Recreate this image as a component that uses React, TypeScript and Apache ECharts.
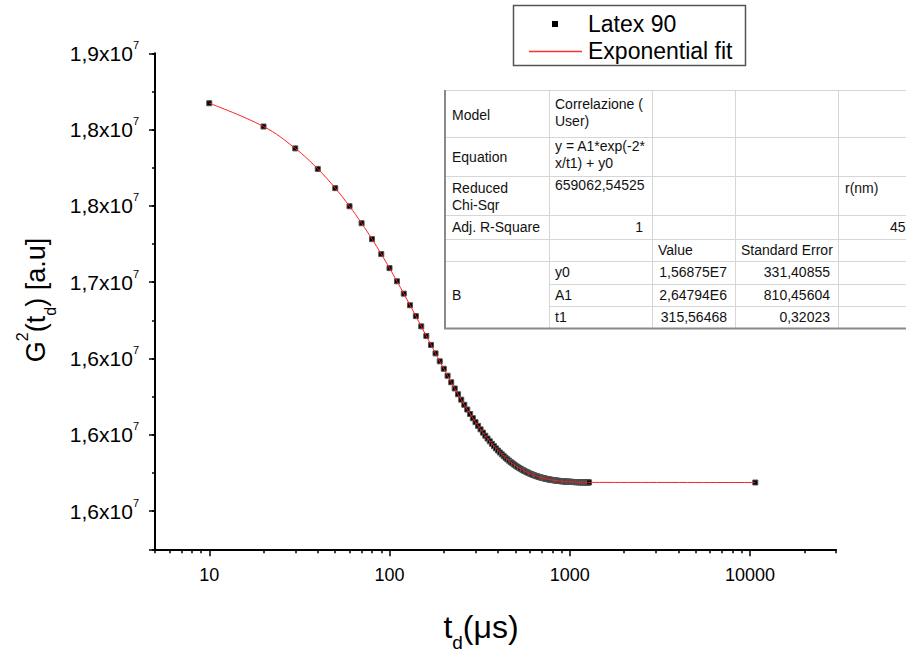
import React, { useEffect, useRef } from 'react';
import * as echarts from 'echarts';

const FONT = '"Liberation Sans", Arial, Helvetica, sans-serif';

// Delay time t_d (µs)
const tValues = [
  10, 20, 30, 40, 50, 60, 70, 80, 90, 100,
  110, 120, 130, 140, 150, 160, 170, 180, 190, 200,
  210, 220, 230, 240, 250, 260, 270, 280, 290, 300,
  310, 320, 330, 340, 350, 360, 370, 380, 390, 400,
  410, 420, 430, 440, 450, 460, 470, 480, 490, 500,
  510, 520, 530, 540, 550, 560, 570, 580, 590, 600,
  610, 620, 630, 640, 650, 660, 670, 680, 690, 700,
  710, 720, 730, 740, 750, 760, 770, 780, 790, 800,
  810, 820, 830, 840, 850, 860, 870, 880, 890, 900,
  910, 920, 930, 940, 950, 960, 970, 980, 990, 1000,
  1010, 1020, 1030, 1040, 1050, 1060, 1070, 1080, 1090, 1100,
  1110, 1120, 1130, 1140, 1150, 1160, 1170, 1180, 1190, 1200,
  1210, 1220, 1230, 1240, 1250, 1260, 1270, 1280,
  10700,
];

// G2(t_d) [a.u] — Latex 90
const gValues = [
  18172800, 18020200, 17876900, 17742500, 17616300, 17497800, 17386700, 17282300, 17184400, 17092400,
  17006200, 16925200, 16849200, 16777800, 16710900, 16648000, 16589000, 16533700, 16481700, 16432900,
  16387200, 16344200, 16303900, 16266000, 16230500, 16197100, 16165800, 16136500, 16108900, 16083000,
  16058700, 16035900, 16014500, 15994400, 15975600, 15957900, 15941300, 15925700, 15911100, 15897300,
  15884400, 15872400, 15861000, 15850400, 15840400, 15831000, 15822200, 15813900, 15806100, 15798800,
  15792000, 15785600, 15779600, 15773900, 15768600, 15763600, 15759000, 15754600, 15750400, 15746600,
  15742900, 15739500, 15736300, 15733300, 15730500, 15727900, 15725400, 15723100, 15720900, 15718800,
  15716900, 15715100, 15713400, 15711800, 15710300, 15708900, 15707600, 15706400, 15705200, 15704100,
  15703100, 15702100, 15701200, 15700400, 15699600, 15698900, 15698200, 15697500, 15696900, 15696300,
  15695800, 15695300, 15694800, 15694300, 15693900, 15693500, 15693200, 15692800, 15692500, 15692200,
  15691900, 15691600, 15691400, 15691100, 15690900, 15690700, 15690500, 15690300, 15690100, 15690000,
  15689800, 15689700, 15689600, 15689400, 15689300, 15689200, 15689100, 15689000, 15688900, 15688800,
  15688700, 15688700, 15688600, 15688500, 15688500, 15688400, 15688300, 15688300,
  15687600,
];

// Exponential fit curve (passes through the measured points)
const fitT = tValues;
const fitG = gValues;

const seriesNames = ['Latex 90', 'Exponential fit'];

const yMajorValues = [15500000, 16000000, 16500000, 17000000, 17500000, 18000000, 18500000];
const yMajorLabels = ['1,6', '1,6', '1,6', '1,7', '1,8', '1,8', '1,9'];

const xMajorValues = [10, 100, 1000, 10000];
const xMajorLabels = ['10', '100', '1000', '10000'];
const xMinorValues = [
  5, 6, 7, 8, 9,
  20, 30, 40, 50, 60, 70, 80, 90,
  200, 300, 400, 500, 600, 700, 800, 900,
  2000, 3000, 4000, 5000, 6000, 7000, 8000, 9000,
  20000, 30000,
];

// Fit results table
const tableModel = ['Model', 'Correlazione (', 'User)'];
const tableEquation = ['Equation', 'y = A1*exp(-2*', 'x/t1) + y0'];
const tableChi = ['Reduced', 'Chi-Sqr', '659062,54525', 'r(nm)'];
const tableAdj = ['Adj. R-Square', '1', '45'];
const tableHeader = ['Value', 'Standard Error'];
const paramNames = ['y0', 'A1', 't1'];
const paramValues = ['1,56875E7', '2,64794E6', '315,56468'];
const paramErrors = ['331,40855', '810,45604', '0,32023'];
const groupLabel = 'B';

function buildTable(): any[] {
  const els: any[] = [];
  const L = 444, R = 960;
  const cols = [549, 652, 735, 838];
  const rows = [90, 137, 176, 215, 239, 261, 284, 306, 328];
  const gridColor = '#d6d6d6';
  els.push({ type: 'rect', shape: { x: L, y: rows[0], width: R - L, height: rows[8] - rows[0] }, style: { fill: '#fff' }, z: 10 });
  const hline = (y: number, x1: number) =>
    els.push({ type: 'line', shape: { x1, y1: y, x2: R, y2: y }, style: { stroke: gridColor, lineWidth: 1 }, z: 11 });
  [rows[0], rows[1], rows[2], rows[3], rows[4], rows[5]].forEach((y) => hline(y + 0.5, L));
  hline(rows[6] + 0.5, cols[0]);
  hline(rows[7] + 0.5, cols[0]);
  cols.forEach((x) =>
    els.push({ type: 'line', shape: { x1: x + 0.5, y1: rows[0], x2: x + 0.5, y2: rows[8] }, style: { stroke: gridColor, lineWidth: 1 }, z: 11 })
  );
  els.push({ type: 'line', shape: { x1: L + 1, y1: rows[0], x2: L + 1, y2: rows[8] + 1 }, style: { stroke: '#8a8a8a', lineWidth: 2 }, z: 12 });
  els.push({ type: 'line', shape: { x1: L, y1: rows[8] + 0.5, x2: R, y2: rows[8] + 0.5 }, style: { stroke: '#8a8a8a', lineWidth: 2 }, z: 12 });

  const txt = (s: string, x: number, y: number, align = 'left') =>
    els.push({
      type: 'text', x, y, z: 13,
      style: { text: s, fontSize: 14, fontFamily: FONT, fill: '#111', align, verticalAlign: 'middle' },
    });
  const c0 = L + 8, c1 = cols[0] + 6, c2 = cols[1] + 6, c3 = cols[2] + 6;
  txt(tableModel[0], c0, 115);
  txt(tableModel[1], c1, 104);
  txt(tableModel[2], c1, 121);
  txt(tableEquation[0], c0, 157);
  txt(tableEquation[1], c1, 146);
  txt(tableEquation[2], c1, 163);
  txt(tableChi[0], c0, 188);
  txt(tableChi[1], c0, 205);
  txt(tableChi[2], c1, 185);
  txt(tableChi[3], cols[3] + 7, 188);
  txt(tableAdj[0], c0, 227);
  txt(tableAdj[1], cols[1] - 9, 227, 'right');
  txt(tableAdj[2], 890, 227);
  txt(tableHeader[0], c2, 250);
  txt(tableHeader[1], c3, 250);
  txt(groupLabel, c0, 295);
  paramNames.forEach((p, i) => {
    const cy = [272, 295, 317][i];
    txt(p, c1, cy);
    txt(paramValues[i], cols[2] - 8, cy, 'right');
    txt(paramErrors[i], cols[3] - 8, cy, 'right');
  });
  return els;
}

function buildLegend(): any[] {
  return [
    { type: 'rect', shape: { x: 513.5, y: 5.5, width: 232, height: 60 }, style: { fill: '#fff', stroke: '#555', lineWidth: 1.5 }, z: 20 },
    { type: 'rect', shape: { x: 552, y: 21, width: 6, height: 6 }, style: { fill: '#000' }, z: 21 },
    { type: 'text', x: 588, y: 24, z: 21, style: { text: seriesNames[0], fontSize: 23, fontFamily: FONT, fill: '#000', verticalAlign: 'middle' } },
    { type: 'line', shape: { x1: 529, y1: 51.5, x2: 582, y2: 51.5 }, style: { stroke: '#ff3030', lineWidth: 1.3 }, z: 21 },
    { type: 'text', x: 588, y: 51, z: 21, style: { text: seriesNames[1], fontSize: 23, fontFamily: FONT, fill: '#000', verticalAlign: 'middle' } },
  ];
}

function buildTitles(): any[] {
  return [
    {
      type: 'text', x: 481, y: 627, z: 5,
      style: {
        text: '{a|t}{b|d}{a|(μs)}', align: 'center', verticalAlign: 'middle',
        rich: {
          a: { fontSize: 32, fontFamily: FONT, fill: '#000', lineHeight: 50 },
          b: { fontSize: 19, fontFamily: FONT, fill: '#000', lineHeight: 19, verticalAlign: 'bottom' },
        },
      },
    },
    {
      type: 'text', x: 36, y: 300, rotation: Math.PI / 2, z: 5,
      style: {
        text: '{a|G}{s|2}{a|(t}{b|d}{a|) [a.u]}', align: 'center', verticalAlign: 'middle',
        rich: {
          a: { fontSize: 27, fontFamily: FONT, fill: '#000', lineHeight: 44 },
          s: { fontSize: 16, fontFamily: FONT, fill: '#000', lineHeight: 16, verticalAlign: 'top' },
          b: { fontSize: 16, fontFamily: FONT, fill: '#000', lineHeight: 16, verticalAlign: 'bottom' },
        },
      },
    },
  ];
}

export default function App() {
  const ref = useRef<HTMLDivElement>(null);
  useEffect(() => {
    if (!ref.current) return;
    const chart = echarts.init(ref.current, undefined, { renderer: 'svg' });
    const yMin = 15250000, yMax = 18500000;
    const axisBlack = { color: '#000', width: 2 };
    chart.setOption({
      animation: false,
      backgroundColor: '#fff',
      grid: { left: 155, right: 70, top: 53.3, bottom: 103.7, containLabel: false },
      xAxis: [
        {
          type: 'log', logBase: 10, min: 5, max: 30000,
          axisLine: { show: true, onZero: false, lineStyle: axisBlack },
          axisTick: { show: true, customValues: xMajorValues, length: 7, inside: false, lineStyle: { color: '#000', width: 1.5 } },
          axisLabel: {
            show: true, customValues: xMajorValues, margin: 17,
            formatter: (v: number) => xMajorLabels[xMajorValues.indexOf(v)] ?? '',
            fontSize: 18, fontFamily: FONT, color: '#000',
          },
          splitLine: { show: false },
          minorTick: { show: false },
        },
        {
          type: 'log', logBase: 10, min: 5, max: 30000, position: 'bottom',
          axisLine: { show: false, onZero: false },
          axisTick: { show: true, customValues: xMinorValues, length: 4, lineStyle: { color: '#000', width: 1.5 } },
          axisLabel: { show: false },
          splitLine: { show: false },
        },
      ],
      yAxis: [
        {
          // data axis
          type: 'value', min: yMin, max: yMax, position: 'left',
          axisLine: { show: true, onZero: false, lineStyle: axisBlack },
          axisTick: { show: false },
          axisLabel: { show: false },
          splitLine: { show: false },
        },
        {
          // minor ticks every 2.5e5 (counted from min)
          type: 'value', min: yMin, max: yMax, interval: 250000, position: 'left',
          axisLine: { show: false, onZero: false },
          axisTick: { show: true, length: 3, lineStyle: { color: '#000', width: 1.5 } },
          axisLabel: { show: false },
          splitLine: { show: false },
        },
        {
          // major ticks + labels: same scale mirrored (v -> -v), counted from -yMax
          type: 'value', inverse: true, min: -yMax, max: -yMin, interval: 500000, position: 'left',
          axisLine: { show: false, onZero: false },
          axisTick: { show: true, length: 6, lineStyle: { color: '#000', width: 1.5 } },
          axisLabel: {
            show: true, margin: 16, showMinLabel: true, showMaxLabel: true,
            formatter: (v: number) => {
              const i = yMajorValues.indexOf(-v);
              return i < 0 ? '' : `{a|${yMajorLabels[i]}x10}{s|7}`;
            },
            rich: {
              a: { fontSize: 21, fontFamily: FONT, color: '#000', lineHeight: 28 },
              s: { fontSize: 11, fontFamily: FONT, color: '#000', lineHeight: 11, verticalAlign: 'top' },
            },
          },
          splitLine: { show: false },
        },
      ],
      series: [
        {
          name: seriesNames[0], type: 'scatter', xAxisIndex: 0, yAxisIndex: 0,
          data: tValues.map((t, i) => [t, gValues[i]]),
          symbol: 'rect', symbolSize: 5,
          itemStyle: { color: '#000', borderColor: '#555', borderWidth: 1, opacity: 1 },
          z: 2,
        },
        {
          name: seriesNames[1], type: 'line', xAxisIndex: 0, yAxisIndex: 0,
          data: fitT.map((t, i) => [t, fitG[i]]),
          showSymbol: false, smooth: 0.4,
          lineStyle: { color: '#ff1f1f', width: 1 },
          z: 3,
        },
      ],
      graphic: [...buildTitles(), ...buildTable(), ...buildLegend()],
    });
    return () => chart.dispose();
  }, []);
  return (
    <div
      ref={ref}
      style={{ position: 'fixed', left: 0, top: 0, width: 906, height: 653, background: '#fff' }}
    />
  );
}
